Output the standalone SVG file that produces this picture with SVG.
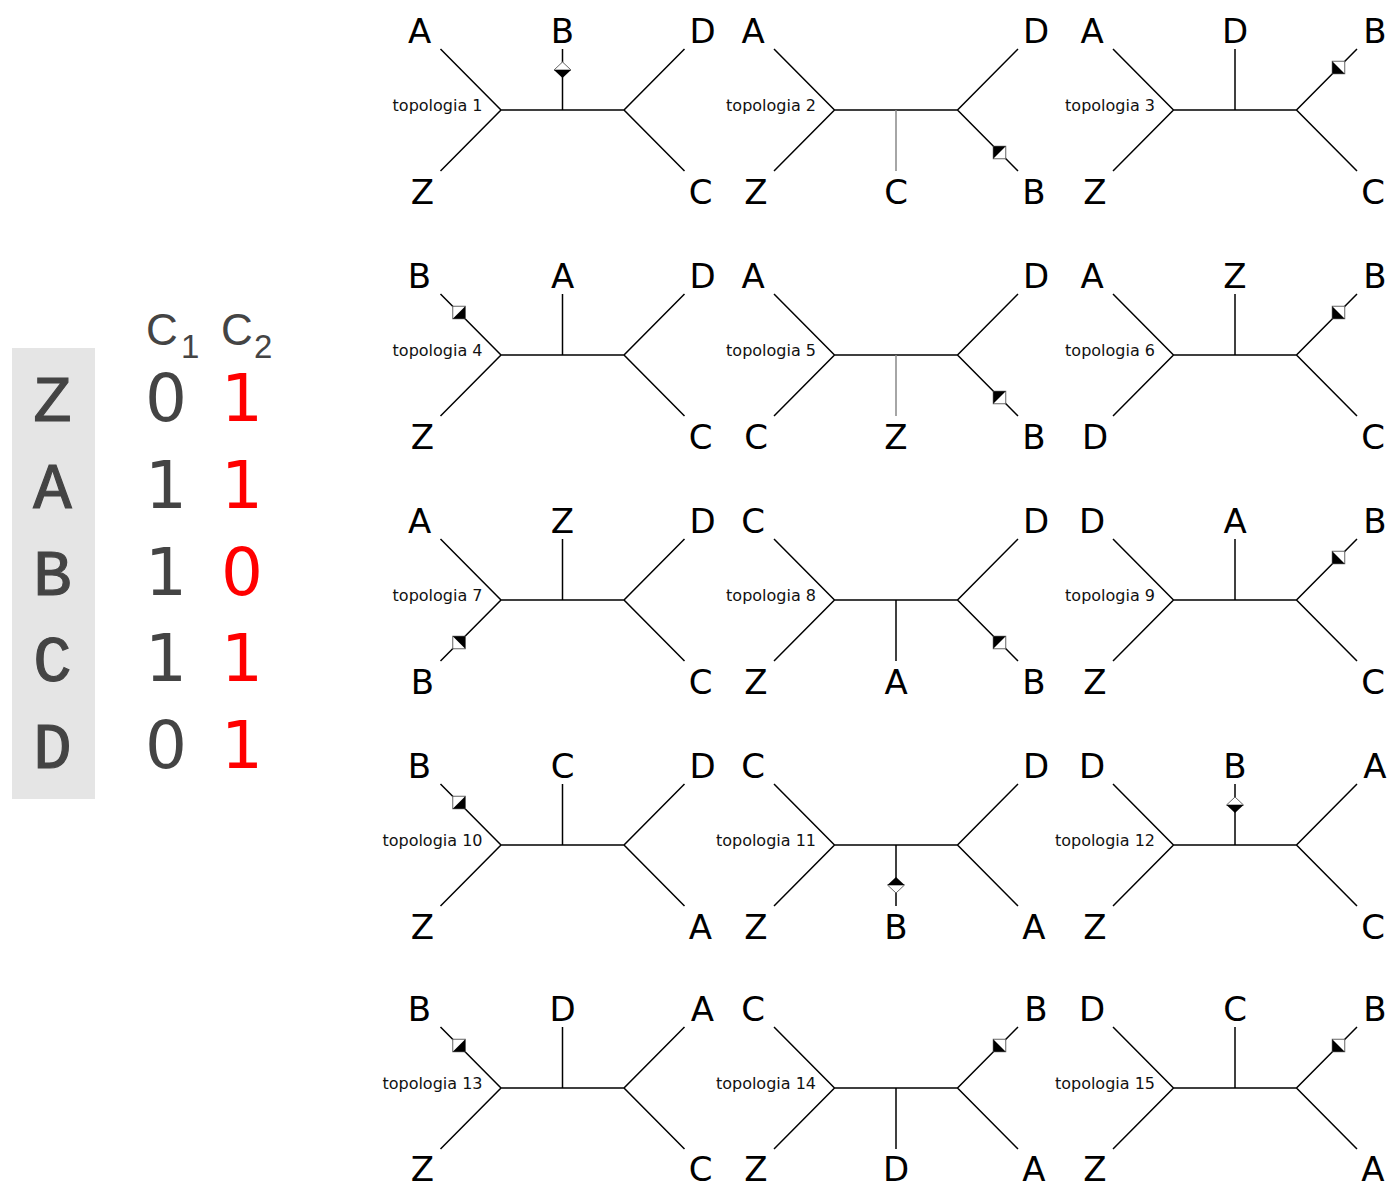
<svg xmlns="http://www.w3.org/2000/svg" xmlns:xlink="http://www.w3.org/1999/xlink" width="1389" height="1185" viewBox="0 0 1389 1185">
<style>
.br{stroke:#000;stroke-width:1.5;fill:none}
.gr{stroke:#888;stroke-width:1.5;fill:none}
.lab{font-family:"DejaVu Sans",sans-serif;font-size:34px;fill:#000;text-anchor:middle}
.tl{font-family:"DejaVu Sans",sans-serif;font-size:16px;fill:#111;text-anchor:end}
.row{font-family:"Liberation Mono",monospace;font-size:64px;fill:#444;stroke:#444;stroke-width:1.2;text-anchor:middle}
.num{font-family:"DejaVu Sans",sans-serif;font-size:66px;text-anchor:middle}
.hd{font-family:"Liberation Sans",sans-serif;font-size:44px;fill:#444}
.sub{font-family:"Liberation Sans",sans-serif;font-size:33px;fill:#444}
</style>
<defs>
<g id="sq"><rect x="-6.25" y="-6.25" width="12.5" height="12.5" fill="#fff" stroke="#666" stroke-width="1"/><polygon points="-6.25,-6.25 6.25,-6.25 -6.25,6.25" fill="#000"/></g>
<g id="dia"><polygon points="-8.5,0 0,-8 8.5,0" fill="#fff" stroke="#666" stroke-width="1"/><polygon points="-8.5,0 8.5,0 0,8" fill="#000"/></g>
<g id="tree"><path class="br" d="M-61.5,0H61.5M-122,-61L-61.5,0L-122,61M122,-61L61.5,0L122,61"/></g>
</defs>
<rect x="0" y="0" width="1389" height="1185" fill="#fff"/>

<g id="table">
<rect x="12" y="348" width="83" height="451" fill="#e5e5e5"/>
<text class="hd" x="146" y="345">C</text><text class="sub" x="181" y="358">1</text>
<text class="hd" x="221" y="345">C</text><text class="sub" x="254" y="358">2</text>
<text class="row" x="52.5" y="421">Z</text>
<text class="row" x="52.5" y="508">A</text>
<text class="row" x="52.5" y="594.5">B</text>
<text class="row" x="52.5" y="681">C</text>
<text class="row" x="52.5" y="767.5">D</text>
<text class="num" x="166" y="421" fill="#444">0</text>
<text class="num" x="166" y="508" fill="#444">1</text>
<text class="num" x="166" y="594.5" fill="#444">1</text>
<text class="num" x="166" y="681" fill="#444">1</text>
<text class="num" x="166" y="767.5" fill="#444">0</text>
<text class="num" x="242" y="421" fill="#f00">1</text>
<text class="num" x="242" y="508" fill="#f00">1</text>
<text class="num" x="242" y="594.5" fill="#f00">0</text>
<text class="num" x="242" y="681" fill="#f00">1</text>
<text class="num" x="242" y="767.5" fill="#f00">1</text>
</g>

<g id="connectors">
<g transform="translate(562.5,110)"><use xlink:href="#tree"/><path class="br" d="M0,0V-61"/><use xlink:href="#dia" y="-40"/></g>
<g transform="translate(896,110)"><use xlink:href="#tree"/><path class="gr" d="M0,0V61"/><use xlink:href="#sq" x="103.5" y="42.5"/></g>
<g transform="translate(1235,110)"><use xlink:href="#tree"/><path class="br" d="M0,0V-61"/><use xlink:href="#sq" transform="translate(103.5,-42.5) rotate(-90)"/></g>

<g transform="translate(562.5,355)"><use xlink:href="#tree"/><path class="br" d="M0,0V-61"/><use xlink:href="#sq" transform="translate(-103.5,-42.5) rotate(180)"/></g>
<g transform="translate(896,355)"><use xlink:href="#tree"/><path class="gr" d="M0,0V61"/><use xlink:href="#sq" x="103.5" y="42.5"/></g>
<g transform="translate(1235,355)"><use xlink:href="#tree"/><path class="br" d="M0,0V-61"/><use xlink:href="#sq" transform="translate(103.5,-42.5) rotate(-90)"/></g>

<g transform="translate(562.5,600)"><use xlink:href="#tree"/><path class="br" d="M0,0V-61"/><use xlink:href="#sq" transform="translate(-103.5,42.5) rotate(90)"/></g>
<g transform="translate(896,600)"><use xlink:href="#tree"/><path class="br" d="M0,0V61"/><use xlink:href="#sq" x="103.5" y="42.5"/></g>
<g transform="translate(1235,600)"><use xlink:href="#tree"/><path class="br" d="M0,0V-61"/><use xlink:href="#sq" transform="translate(103.5,-42.5) rotate(-90)"/></g>

<g transform="translate(562.5,845)"><use xlink:href="#tree"/><path class="br" d="M0,0V-61"/><use xlink:href="#sq" transform="translate(-103.5,-42.5) rotate(180)"/></g>
<g transform="translate(896,845)"><use xlink:href="#tree"/><path class="br" d="M0,0V61"/><use xlink:href="#dia" transform="translate(0,40) rotate(180)"/></g>
<g transform="translate(1235,845)"><use xlink:href="#tree"/><path class="br" d="M0,0V-61"/><use xlink:href="#dia" y="-40"/></g>

<g transform="translate(562.5,1088)"><use xlink:href="#tree"/><path class="br" d="M0,0V-61"/><use xlink:href="#sq" transform="translate(-103.5,-42.5) rotate(180)"/></g>
<g transform="translate(896,1088)"><use xlink:href="#tree"/><path class="br" d="M0,0V61"/><use xlink:href="#sq" transform="translate(103.5,-42.5) rotate(-90)"/></g>
<g transform="translate(1235,1088)"><use xlink:href="#tree"/><path class="br" d="M0,0V-61"/><use xlink:href="#sq" transform="translate(103.5,-42.5) rotate(-90)"/></g>
</g>

<g id="topologia-1" transform="translate(562.5,110)">
<text class="tl" x="-80" y="1">topologia 1</text>
<text class="lab" x="-143" y="-67">A</text><text class="lab" x="0" y="-67">B</text><text class="lab" x="140" y="-67">D</text>
<text class="lab" x="-140" y="94">Z</text><text class="lab" x="138" y="94">C</text>
</g>
<g id="topologia-2" transform="translate(896,110)">
<text class="tl" x="-80" y="1">topologia 2</text>
<text class="lab" x="-143" y="-67">A</text><text class="lab" x="140" y="-67">D</text>
<text class="lab" x="-140" y="94">Z</text><text class="lab" x="0" y="94">C</text><text class="lab" x="138" y="94">B</text>
</g>
<g id="topologia-3" transform="translate(1235,110)">
<text class="tl" x="-80" y="1">topologia 3</text>
<text class="lab" x="-143" y="-67">A</text><text class="lab" x="0" y="-67">D</text><text class="lab" x="140" y="-67">B</text>
<text class="lab" x="-140" y="94">Z</text><text class="lab" x="138" y="94">C</text>
</g>

<g id="topologia-4" transform="translate(562.5,355)">
<text class="tl" x="-80" y="1">topologia 4</text>
<text class="lab" x="-143" y="-67">B</text><text class="lab" x="0" y="-67">A</text><text class="lab" x="140" y="-67">D</text>
<text class="lab" x="-140" y="94">Z</text><text class="lab" x="138" y="94">C</text>
</g>
<g id="topologia-5" transform="translate(896,355)">
<text class="tl" x="-80" y="1">topologia 5</text>
<text class="lab" x="-143" y="-67">A</text><text class="lab" x="140" y="-67">D</text>
<text class="lab" x="-140" y="94">C</text><text class="lab" x="0" y="94">Z</text><text class="lab" x="138" y="94">B</text>
</g>
<g id="topologia-6" transform="translate(1235,355)">
<text class="tl" x="-80" y="1">topologia 6</text>
<text class="lab" x="-143" y="-67">A</text><text class="lab" x="0" y="-67">Z</text><text class="lab" x="140" y="-67">B</text>
<text class="lab" x="-140" y="94">D</text><text class="lab" x="138" y="94">C</text>
</g>

<g id="topologia-7" transform="translate(562.5,600)">
<text class="tl" x="-80" y="1">topologia 7</text>
<text class="lab" x="-143" y="-67">A</text><text class="lab" x="0" y="-67">Z</text><text class="lab" x="140" y="-67">D</text>
<text class="lab" x="-140" y="94">B</text><text class="lab" x="138" y="94">C</text>
</g>
<g id="topologia-8" transform="translate(896,600)">
<text class="tl" x="-80" y="1">topologia 8</text>
<text class="lab" x="-143" y="-67">C</text><text class="lab" x="140" y="-67">D</text>
<text class="lab" x="-140" y="94">Z</text><text class="lab" x="0" y="94">A</text><text class="lab" x="138" y="94">B</text>
</g>
<g id="topologia-9" transform="translate(1235,600)">
<text class="tl" x="-80" y="1">topologia 9</text>
<text class="lab" x="-143" y="-67">D</text><text class="lab" x="0" y="-67">A</text><text class="lab" x="140" y="-67">B</text>
<text class="lab" x="-140" y="94">Z</text><text class="lab" x="138" y="94">C</text>
</g>

<g id="topologia-10" transform="translate(562.5,845)">
<text class="tl" x="-80" y="1">topologia 10</text>
<text class="lab" x="-143" y="-67">B</text><text class="lab" x="0" y="-67">C</text><text class="lab" x="140" y="-67">D</text>
<text class="lab" x="-140" y="94">Z</text><text class="lab" x="138" y="94">A</text>
</g>
<g id="topologia-11" transform="translate(896,845)">
<text class="tl" x="-80" y="1">topologia 11</text>
<text class="lab" x="-143" y="-67">C</text><text class="lab" x="140" y="-67">D</text>
<text class="lab" x="-140" y="94">Z</text><text class="lab" x="0" y="94">B</text><text class="lab" x="138" y="94">A</text>
</g>
<g id="topologia-12" transform="translate(1235,845)">
<text class="tl" x="-80" y="1">topologia 12</text>
<text class="lab" x="-143" y="-67">D</text><text class="lab" x="0" y="-67">B</text><text class="lab" x="140" y="-67">A</text>
<text class="lab" x="-140" y="94">Z</text><text class="lab" x="138" y="94">C</text>
</g>

<g id="topologia-13" transform="translate(562.5,1088)">
<text class="tl" x="-80" y="1">topologia 13</text>
<text class="lab" x="-143" y="-67">B</text><text class="lab" x="0" y="-67">D</text><text class="lab" x="140" y="-67">A</text>
<text class="lab" x="-140" y="93">Z</text><text class="lab" x="138" y="93">C</text>
</g>
<g id="topologia-14" transform="translate(896,1088)">
<text class="tl" x="-80" y="1">topologia 14</text>
<text class="lab" x="-143" y="-67">C</text><text class="lab" x="140" y="-67">B</text>
<text class="lab" x="-140" y="93">Z</text><text class="lab" x="0" y="93">D</text><text class="lab" x="138" y="93">A</text>
</g>
<g id="topologia-15" transform="translate(1235,1088)">
<text class="tl" x="-80" y="1">topologia 15</text>
<text class="lab" x="-143" y="-67">D</text><text class="lab" x="0" y="-67">C</text><text class="lab" x="140" y="-67">B</text>
<text class="lab" x="-140" y="93">Z</text><text class="lab" x="138" y="93">A</text>
</g>
</svg>
